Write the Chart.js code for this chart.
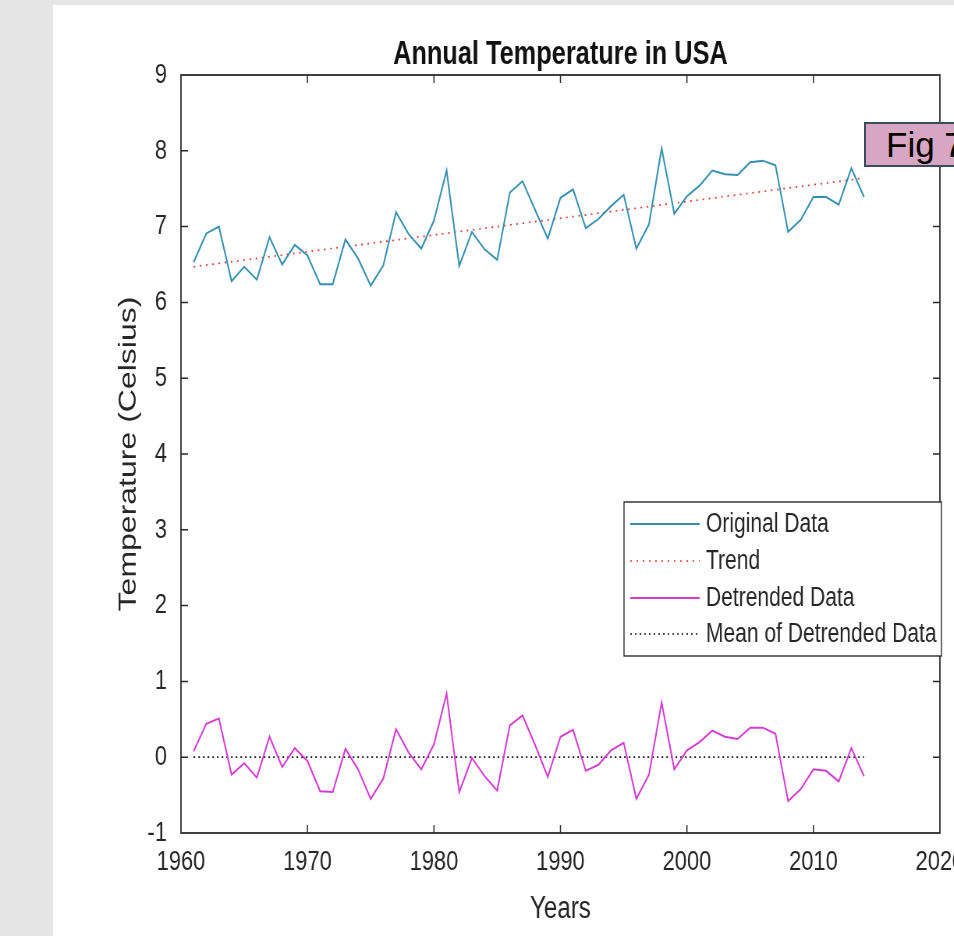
<!DOCTYPE html>
<html>
<head>
<meta charset="utf-8">
<title>Annual Temperature in USA</title>
<script src="https://cdn.jsdelivr.net/npm/chart.js@4.4.1/dist/chart.umd.min.js"></script>
<style>
  html, body { margin: 0; padding: 0; width: 954px; height: 936px; overflow: hidden; background: #e5e5e5; }
  #panel { position: absolute; left: 53px; top: 5px; right: 0; bottom: 0; background: #ffffff; }
  /* the figure is laid out wide and condensed horizontally */
  #stage { position: absolute; left: 0; top: 0; width: 1300px; height: 936px; transform: scaleX(0.78); transform-origin: 0 0; }
  #chart { position: absolute; left: 0; top: 0; }
  #fig { position: absolute; left: 864px; top: 122px; width: 200px; height: 41px; padding-left: 20px;
         background: #d7a6c3; border: 2px solid #3e4b5e; color: #000;
         font: 35px 'Liberation Sans', Arial, sans-serif; line-height: 42px; }
</style>
</head>
<body>
<div id="panel"></div>
<div id="stage">
  <canvas id="chart" width="1300" height="936"></canvas>
</div>
<div id="fig">Fig 7</div>
<script>
// Annual mean temperature in the USA, 1961-2014 (degrees Celsius)
const years = [1961, 1962, 1963, 1964, 1965, 1966, 1967, 1968, 1969, 1970,
               1971, 1972, 1973, 1974, 1975, 1976, 1977, 1978, 1979, 1980,
               1981, 1982, 1983, 1984, 1985, 1986, 1987, 1988, 1989, 1990,
               1991, 1992, 1993, 1994, 1995, 1996, 1997, 1998, 1999, 2000,
               2001, 2002, 2003, 2004, 2005, 2006, 2007, 2008, 2009, 2010,
               2011, 2012, 2013, 2014];

const originalTemp = [6.53, 6.91, 7.00, 6.28, 6.47, 6.30, 6.86, 6.50, 6.76, 6.62,
                      6.24, 6.24, 6.83, 6.58, 6.22, 6.49, 7.19, 6.90, 6.71, 7.08,
                      7.74, 6.48, 6.93, 6.70, 6.56, 7.45, 7.60, 7.22, 6.84, 7.38,
                      7.49, 6.98, 7.10, 7.27, 7.42, 6.71, 7.03, 8.03, 7.17, 7.40,
                      7.54, 7.74, 7.69, 7.68, 7.85, 7.87, 7.81, 6.93, 7.09, 7.39,
                      7.39, 7.29, 7.77, 7.39];

const detrendedTemp = [0.08, 0.44, 0.51, -0.23, -0.08, -0.27, 0.27, -0.13, 0.12, -0.05,
                       -0.45, -0.46, 0.11, -0.16, -0.55, -0.28, 0.37, 0.06, -0.16, 0.17,
                       0.84, -0.46, -0.01, -0.25, -0.44, 0.42, 0.55, 0.16, -0.26, 0.27,
                       0.36, -0.18, -0.10, 0.09, 0.19, -0.55, -0.23, 0.72, -0.16, 0.09,
                       0.20, 0.35, 0.27, 0.24, 0.39, 0.39, 0.31, -0.58, -0.42, -0.16,
                       -0.18, -0.32, 0.12, -0.25];

// linear trend line end points
const trendYears = [1961, 2014];
const trendTemp = [6.47, 7.64];

// mean of the detrended series
const meanYears = [1961, 2014];
const meanDetrended = [0, 0];

const xTicks = [1960, 1970, 1980, 1990, 2000, 2010, 2020];
const yTicks = [-1, 0, 1, 2, 3, 4, 5, 6, 7, 8, 9];

const seriesNames = ['Original Data', 'Trend', 'Detrended Data', 'Mean of Detrended Data'];

const FONT = "'Liberation Sans', Arial, Helvetica, sans-serif";
const TEXT = '#262626';
const AXIS = '#2b2b2b';

const pts = (xs, ys) => xs.map((x, i) => ({ x: x, y: ys[i] }));

// box around the axes with inward tick marks on all four sides
const axesBox = {
  id: 'axesBox',
  afterDatasetsDraw(chart) {
    const { ctx, chartArea: a, scales: { x, y } } = chart;
    ctx.save();
    ctx.strokeStyle = AXIS;
    ctx.lineWidth = 1.5;
    ctx.beginPath();
    xTicks.forEach(v => {
      const px = x.getPixelForValue(v);
      if (px <= a.left + 1 || px >= a.right - 1) return;
      ctx.moveTo(px, a.bottom); ctx.lineTo(px, a.bottom - 8);
      ctx.moveTo(px, a.top); ctx.lineTo(px, a.top + 8);
    });
    yTicks.forEach(v => {
      const py = y.getPixelForValue(v);
      if (py <= a.top + 1 || py >= a.bottom - 1) return;
      ctx.moveTo(a.left, py); ctx.lineTo(a.left + 9, py);
      ctx.moveTo(a.right, py); ctx.lineTo(a.right - 9, py);
    });
    ctx.stroke();
    ctx.lineWidth = 1.8;
    ctx.strokeRect(a.left, a.top, a.right - a.left, a.bottom - a.top);
    ctx.restore();
  }
};

// legend box inside the axes, lower right
const boxLegend = {
  id: 'boxLegend',
  afterDraw(chart) {
    const { ctx } = chart;
    const left = 800, top = 502, right = 1207, bottom = 656;
    ctx.save();
    ctx.fillStyle = '#ffffff';
    ctx.fillRect(left, top, right - left, bottom - top);
    ctx.strokeStyle = AXIS;
    ctx.lineWidth = 1.4;
    ctx.strokeRect(left, top, right - left, bottom - top);
    const rows = [524, 561, 598, 634];
    chart.data.datasets.forEach((ds, i) => {
      const yy = rows[i];
      ctx.beginPath();
      ctx.strokeStyle = ds.borderColor;
      ctx.lineWidth = ds.borderWidth;
      ctx.setLineDash(ds.borderDash || []);
      ctx.moveTo(808, yy);
      ctx.lineTo(897, yy);
      ctx.stroke();
      ctx.setLineDash([]);
      ctx.fillStyle = TEXT;
      ctx.font = '27px ' + FONT;
      ctx.textBaseline = 'middle';
      ctx.textAlign = 'left';
      ctx.fillText(ds.label, 905, yy + 1);
    });
    ctx.restore();
  }
};

new Chart(document.getElementById('chart'), {
  type: 'line',
  data: {
    datasets: [
      { label: seriesNames[0], data: pts(years, originalTemp), borderColor: '#3590b0', borderWidth: 2,
        pointRadius: 0, tension: 0, fill: false },
      { label: seriesNames[1], data: pts(trendYears, trendTemp), borderColor: '#e3322b', borderWidth: 1.7,
        borderDash: [2, 6], pointRadius: 0, fill: false },
      { label: seriesNames[2], data: pts(years, detrendedTemp), borderColor: '#d43cd4', borderWidth: 2,
        pointRadius: 0, tension: 0, fill: false },
      { label: seriesNames[3], data: pts(meanYears, meanDetrended), borderColor: '#111111', borderWidth: 1.7,
        borderDash: [2, 4], pointRadius: 0, fill: false }
    ]
  },
  options: {
    responsive: false,
    animation: false,
    events: [],
    layout: { padding: { left: 0, top: 0, right: 95, bottom: 0 } },
    plugins: {
      legend: { display: false },
      tooltip: { enabled: false },
      title: {
        display: true,
        text: 'Annual Temperature in USA',
        fullSize: false,
        color: '#111111',
        font: { family: FONT, size: 32.5, weight: 'bold' },
        padding: { top: 36, bottom: 0 }
      }
    },
    scales: {
      x: {
        type: 'linear',
        min: 1960,
        max: 2020,
        afterBuildTicks: s => { s.ticks = xTicks.map(v => ({ value: v })); },
        afterFit: s => { s.height = 103; },
        grid: { display: false, drawTicks: false },
        border: { display: false },
        ticks: {
          callback: v => String(v),
          color: TEXT,
          font: { family: FONT, size: 28 },
          padding: 12,
          maxRotation: 0,
          autoSkip: false
        },
        title: {
          display: true,
          text: 'Years',
          color: TEXT,
          font: { family: FONT, size: 31 },
          padding: { top: 0, bottom: 8 }
        }
      },
      y: {
        min: -1,
        max: 9,
        afterBuildTicks: s => { s.ticks = yTicks.map(v => ({ value: v })); },
        afterFit: s => { s.width = 232; },
        grid: { display: false, drawTicks: false },
        border: { display: false },
        ticks: {
          color: TEXT,
          font: { family: FONT, size: 28 },
          padding: 18
        },
        title: {
          display: true,
          text: 'Temperature (Celsius)',
          color: TEXT,
          font: { family: FONT, size: 32 },
          padding: { top: 146, bottom: 0 }
        }
      }
    }
  },
  plugins: [axesBox, boxLegend]
});
</script>
</body>
</html>
